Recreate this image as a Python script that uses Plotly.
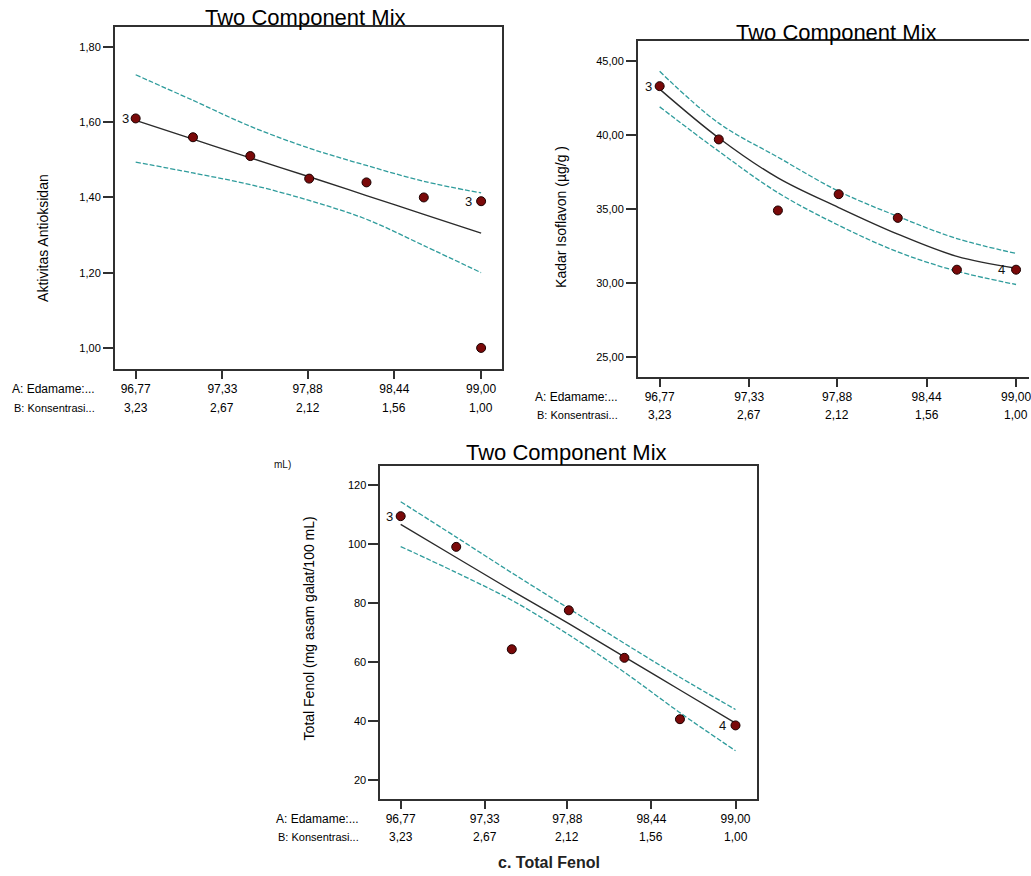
import plotly.graph_objects as go

W, H = 1031, 876
FONT = "Liberation Sans, Arial, sans-serif"

# ---------------- data ----------------
design_x = [96.77, 97.14, 97.51, 97.89, 98.26, 98.63, 99.00]

xtick_vals = [96.77, 97.33, 97.88, 98.44, 99.00]
xtick_A = ["96,77", "97,33", "97,88", "98,44", "99,00"]
xtick_B = ["3,23", "2,67", "2,12", "1,56", "1,00"]

# a. Aktivitas Antioksidan
anti_x = [96.77, 97.14, 97.51, 97.89, 98.26, 98.63, 99.00, 99.00]
anti_y = [1.61, 1.56, 1.51, 1.45, 1.44, 1.40, 1.39, 1.00]
anti_fit = [1.605, 1.555, 1.505, 1.455, 1.405, 1.355, 1.305]
anti_up = [1.726, 1.658, 1.589, 1.531, 1.485, 1.443, 1.412]
anti_lo = [1.494, 1.465, 1.434, 1.392, 1.342, 1.272, 1.200]
anti_yticks = [1.00, 1.20, 1.40, 1.60, 1.80]
anti_ytext = ["1,00", "1,20", "1,40", "1,60", "1,80"]

# b. Kadar Isoflavon
iso_x = [96.77, 97.14, 97.51, 97.89, 98.26, 98.63, 99.00]
iso_y = [43.3, 39.7, 34.9, 36.0, 34.4, 30.9, 30.9]
iso_fit = [43.1, 39.8, 37.1, 35.1, 33.3, 31.8, 31.0]
iso_up = [44.3, 40.8, 38.5, 36.2, 34.5, 33.0, 32.0]
iso_lo = [41.9, 38.9, 36.1, 33.9, 32.1, 30.8, 29.9]
iso_yticks = [25, 30, 35, 40, 45]
iso_ytext = ["25,00", "30,00", "35,00", "40,00", "45,00"]

# c. Total Fenol
fen_x = [96.77, 97.14, 97.51, 97.89, 98.26, 98.63, 99.00]
fen_y = [109.4, 99.0, 64.3, 77.5, 61.4, 40.6, 38.5]
fen_fit = [106.6, 95.4, 84.2, 73.0, 61.7, 50.5, 39.3]
fen_up = [114.3, 102.3, 90.2, 78.1, 66.3, 54.8, 43.9]
fen_lo = [99.1, 90.3, 80.9, 69.2, 56.5, 42.8, 29.9]
fen_yticks = [20, 40, 60, 80, 100, 120]
fen_ytext = ["20", "40", "60", "80", "100", "120"]

# replicate labels (point index, text, shift)
anti_reps = [(0, "3", -5), (6, "3", -7)]
iso_reps = [(0, "3", -6), (6, "4", -9)]
fen_reps = [(0, "3", -6), (6, "4", -8)]

# ---------------- layout geometry (pixels) ----------------
panels = {
    "A": dict(x0=115, x1=503, y0=27, y1=369, xr=[96.635, 99.135], yr=[0.944, 1.853],
              title=(306, 17), ytitle=(43, 238), ytitle_text="Aktivitas Antioksidan",
              row1=20, row2=39, lab_shift=-18, mirror_y=True),
    "B": dict(x0=639, x1=W, y0=41, y1=377, xr=[96.633, 99.081], yr=[23.65, 46.35],
              title=(838, 32), ytitle=(562, 217), ytitle_text="Kadar Isoflavon (µg/g )",
              row1=20, row2=38, lab_shift=-18, mirror_y=False),
    "C": dict(x0=381, x1=758, y0=466, y1=799, xr=[96.634, 99.14], yr=[13.56, 126.4],
              title=(568, 453), ytitle=(310, 628), ytitle_text="Total Fenol (mg asam galat/100 mL)",
              row1=20, row2=38, lab_shift=-19, mirror_y=True),
}

series = {
    "A": (anti_x, anti_y, anti_fit, anti_up, anti_lo, anti_yticks, anti_ytext, anti_reps),
    "B": (iso_x, iso_y, iso_fit, iso_up, iso_lo, iso_yticks, iso_ytext, iso_reps),
    "C": (fen_x, fen_y, fen_fit, fen_up, fen_lo, fen_yticks, fen_ytext, fen_reps),
}

BAND = "#2f9c9c"
LINE = "#2b2b2b"
MARK = "#7a0909"
AX = "#303030"

fig = go.Figure()
annotations = []
layout_axes = {}

for i, key in enumerate(["A", "B", "C"]):
    p = panels[key]
    px, py, fit, up, lo, yt, ytt, reps = series[key]
    n = "" if i == 0 else str(i + 1)
    xa, ya = "x" + n, "y" + n
    dom_x = [p["x0"] / W, min(p["x1"] / W, 1.0)]
    dom_y = [1 - p["y1"] / H, 1 - p["y0"] / H]

    for band in (up, lo):
        fig.add_trace(go.Scatter(x=design_x, y=band, mode="lines", xaxis=xa, yaxis=ya,
                                 line=dict(color=BAND, width=1.3, dash="5px,2px", shape="spline"),
                                 showlegend=False, hoverinfo="skip"))
    fig.add_trace(go.Scatter(x=design_x, y=fit, mode="lines", xaxis=xa, yaxis=ya,
                             line=dict(color=LINE, width=1.4, shape="spline"),
                             showlegend=False, hoverinfo="skip"))
    fig.add_trace(go.Scatter(x=px, y=py, mode="markers", xaxis=xa, yaxis=ya,
                             marker=dict(color=MARK, size=9, line=dict(color="#1a0000", width=1)),
                             showlegend=False))

    layout_axes["xaxis" + n] = dict(
        domain=dom_x, range=p["xr"], anchor=ya, tickmode="array", tickvals=xtick_vals,
        ticktext=xtick_A, ticks="outside", ticklen=8, tickwidth=1.5, tickcolor=AX,
        showline=True, linecolor=AX, linewidth=1.6, mirror=True, showgrid=False,
        zeroline=False, ticklabeloverflow="allow",
        tickfont=dict(family=FONT, size=12, color="#000"))
    layout_axes["yaxis" + n] = dict(
        domain=dom_y, range=p["yr"], anchor=xa, tickmode="array", tickvals=yt,
        ticktext=ytt, ticks="outside", ticklen=10, tickwidth=1.5, tickcolor=AX,
        showline=True, linecolor=AX, linewidth=1.6, mirror=p["mirror_y"], showgrid=False,
        zeroline=False, tickfont=dict(family=FONT, size=11, color="#000"))

    # second row of x labels
    for v, t in zip(xtick_vals, xtick_B):
        annotations.append(dict(x=v, y=dom_y[0], xref=xa, yref="paper", text=t,
                                showarrow=False, yanchor="middle", yshift=-p["row2"],
                                font=dict(family=FONT, size=12, color="#000")))
    annotations.append(dict(x=dom_x[0], y=dom_y[0], xref="paper", yref="paper",
                            text="A: Edamame:...", showarrow=False, xanchor="right",
                            yanchor="middle", xshift=p["lab_shift"], yshift=-p["row1"],
                            font=dict(family=FONT, size=12, color="#000")))
    annotations.append(dict(x=dom_x[0], y=dom_y[0], xref="paper", yref="paper",
                            text="B: Konsentrasi...", showarrow=False, xanchor="right",
                            yanchor="middle", xshift=p["lab_shift"], yshift=-p["row2"],
                            font=dict(family=FONT, size=11, color="#000")))
    # title
    annotations.append(dict(x=p["title"][0] / W, y=1 - p["title"][1] / H, xref="paper",
                            yref="paper", text="Two Component Mix", showarrow=False,
                            xanchor="center", yanchor="middle",
                            font=dict(family=FONT, size=22, color="#000")))
    # y title
    annotations.append(dict(x=p["ytitle"][0] / W, y=1 - p["ytitle"][1] / H, xref="paper",
                            yref="paper", text=p["ytitle_text"], showarrow=False,
                            textangle=-90, xanchor="center", yanchor="middle",
                            font=dict(family=FONT, size=14, color="#000")))
    # replicate labels
    for idx, t, sh in reps:
        annotations.append(dict(x=px[idx], y=py[idx], xref=xa, yref=ya, text=t,
                                showarrow=False, xanchor="right", yanchor="middle",
                                xshift=sh, font=dict(family=FONT, size=13, color="#111")))

annotations.append(dict(x=283 / W, y=1 - 464 / H, xref="paper", yref="paper", text="mL)",
                        showarrow=False, xanchor="center", yanchor="middle",
                        font=dict(family=FONT, size=10, color="#111")))
annotations.append(dict(x=550 / W, y=1 - 862 / H, xref="paper", yref="paper",
                        text="<b>c. Total Fenol</b>", showarrow=False, xanchor="center",
                        yanchor="middle", font=dict(family=FONT, size=16, color="#222")))

fig.update_layout(
    width=W, height=H, margin=dict(l=0, r=0, t=0, b=0),
    paper_bgcolor="white", plot_bgcolor="white", showlegend=False,
    annotations=annotations, **layout_axes)

fig.write_html("out.html", config={"displayModeBar": False},
               post_script="document.body.style.margin='0';document.body.style.overflow='hidden';")
